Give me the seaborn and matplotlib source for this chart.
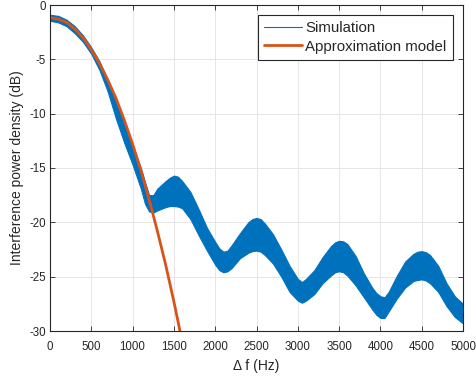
import numpy as np
import pandas as pd
import matplotlib
matplotlib.use("Agg")
import matplotlib.pyplot as plt
from matplotlib.lines import Line2D
import seaborn as sns

# ---- data ----
sim_freq = [0, 100, 200, 300, 400, 500, 600, 700, 800, 900, 1000, 1100, 1150,
            1200, 1250, 1300, 1400, 1450, 1500, 1550, 1600, 1700, 1800, 1900,
            2000, 2050, 2100, 2150, 2200, 2300, 2400, 2450, 2500, 2550, 2600,
            2700, 2800, 2900, 3000, 3050, 3100, 3200, 3300, 3400, 3450, 3500,
            3550, 3600, 3700, 3800, 3900, 3950, 4000, 4050, 4100, 4200, 4300,
            4400, 4450, 4500, 4550, 4600, 4700, 4800, 4900, 5000]
sim_upper = [-0.9, -1.0, -1.35, -1.95, -2.8, -3.9, -5.2, -6.9, -8.9, -10.9,
             -12.9, -15.0, -16.3, -17.5, -17.5, -16.9, -16.2, -15.9, -15.7,
             -15.8, -16.2, -17.2, -18.8, -20.5, -21.8, -22.4, -22.7, -22.6,
             -22.1, -21.0, -20.0, -19.7, -19.6, -19.7, -20.1, -21.1, -22.5,
             -24.0, -25.2, -25.5, -25.2, -24.4, -23.2, -22.2, -21.85, -21.7,
             -21.75, -22.0, -23.1, -24.7, -26.0, -26.5, -26.8, -26.9, -26.4,
             -24.9, -23.6, -22.9, -22.7, -22.65, -22.75, -23.0, -24.0, -25.6,
             -26.8, -27.5]
sim_lower = [-1.45, -1.6, -1.95, -2.6, -3.4, -4.5, -6.0, -8.0, -10.5, -12.7,
             -14.7, -16.9, -18.3, -19.0, -19.1, -18.9, -18.6, -18.5, -18.5,
             -18.55, -18.7, -19.7, -21.2, -22.6, -23.9, -24.4, -24.6, -24.5,
             -24.2, -23.3, -22.8, -22.65, -22.6, -22.7, -23.0, -23.8, -25.0,
             -26.4, -27.2, -27.4, -27.2, -26.6, -25.6, -24.9, -24.6, -24.5,
             -24.6, -24.9, -25.8, -26.9, -28.0, -28.5, -28.8, -28.8, -28.2,
             -27.0, -26.0, -25.4, -25.3, -25.25, -25.35, -25.6, -26.4, -27.7,
             -28.7, -29.3]

model_freq = [0, 100, 200, 300, 400, 500, 600, 700, 800, 900, 1000, 1100,
              1200, 1300, 1400, 1500, 1560, 1600]
model_db = [-1.15, -1.3, -1.6, -2.2, -3.0, -4.1, -5.4, -6.9, -8.6, -10.6,
            -12.8, -15.2, -17.9, -20.8, -23.9, -27.3, -29.5, -31.1]

xticks = [0, 500, 1000, 1500, 2000, 2500, 3000, 3500, 4000, 4500, 5000]
yticks = [-30, -25, -20, -15, -10, -5, 0]
legend_labels = ["Simulation", "Approximation model"]

BLUE = "#0072BD"
ORANGE = "#D95319"

sns.set_theme(style="white")
plt.rcParams["font.family"] = ["Liberation Sans", "DejaVu Sans"]
plt.rcParams["axes.unicode_minus"] = False

sim_df = pd.DataFrame({
    "f": sim_freq + sim_freq,
    "p": sim_upper + sim_lower,
})
model_df = pd.DataFrame({"f": model_freq, "p": model_db})

fig = plt.figure(figsize=(4.76, 3.78), dpi=100)
ax = fig.add_axes([50 / 476, 1 - 331 / 378, 413 / 476, 326 / 378])

sns.lineplot(data=sim_df, x="f", y="p", ax=ax, color=BLUE, linewidth=0.6,
             estimator="mean", errorbar=lambda v: (v.min(), v.max()),
             err_kws={"alpha": 1.0, "linewidth": 0.8})
sns.lineplot(data=model_df, x="f", y="p", ax=ax, color=ORANGE, linewidth=2.0)

ax.set_xlim(0, 5000)
ax.set_ylim(-30, 0)
ax.set_xticks(xticks)
ax.set_yticks(yticks)
ax.set_xticklabels([str(t) for t in xticks])
ax.set_yticklabels([str(t) for t in yticks])
ax.grid(True, color="#E6E6E6", linewidth=0.7)
ax.set_axisbelow(True)
for s in ax.spines.values():
    s.set_visible(True)
    s.set_color("#262626")
    s.set_linewidth(0.8)
ax.tick_params(direction="in", length=3.5, width=0.6, colors="#262626",
               labelsize=8.3, top=True, right=True, bottom=True, left=True)
ax.tick_params(axis="x", pad=7.5)
ax.tick_params(axis="y", pad=3)
ax.set_xlabel("Δ f (Hz)", fontsize=10, color="#262626", labelpad=4)
ax.set_ylabel("Interference power density (dB)", fontsize=10,
              color="#262626", labelpad=4)

handles = [Line2D([0], [0], color=BLUE, linewidth=0.8),
           Line2D([0], [0], color=ORANGE, linewidth=2.0)]
leg = ax.legend(handles, legend_labels, loc="upper right",
                bbox_to_anchor=(0.975, 0.969), borderaxespad=0,
                fontsize=10.8, frameon=True, fancybox=False,
                edgecolor="#262626", framealpha=1, handlelength=2.5,
                handletextpad=0.25, labelspacing=0.3, borderpad=0.4)
leg.get_frame().set_linewidth(0.8)

fig.savefig("out.png", dpi=100, facecolor="white")
